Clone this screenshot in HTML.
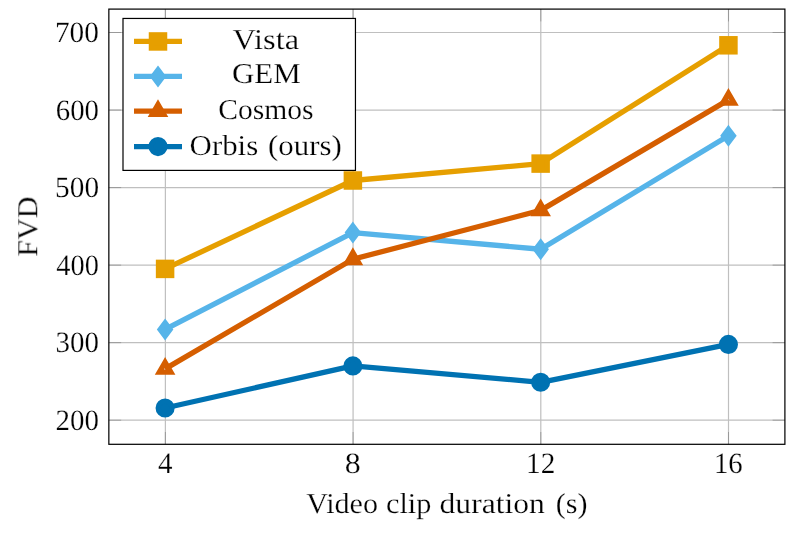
<!DOCTYPE html>
<html><head><meta charset="utf-8"><title>FVD vs video clip duration</title>
<style>
html,body{margin:0;padding:0;background:#fff;}
body{width:794px;height:538px;overflow:hidden;}
svg{display:block;}
text{font-family:"Liberation Serif",serif;fill:#000;text-rendering:geometricPrecision;stroke:#fff;stroke-width:0.22px;}
</style></head><body>
<svg width="794" height="538" viewBox="0 0 794 538">
<rect x="0" y="0" width="794" height="538" fill="#fff"/>
<g stroke="#bfbfbf" stroke-width="1.2" fill="none">
<line x1="165.38" y1="9.1" x2="165.38" y2="444.3"/>
<line x1="353.08" y1="9.1" x2="353.08" y2="444.3"/>
<line x1="540.8" y1="9.1" x2="540.8" y2="444.3"/>
<line x1="728.5" y1="9.1" x2="728.5" y2="444.3"/>
<line x1="108.85" y1="32.5" x2="784.9" y2="32.5"/>
<line x1="108.85" y1="110.04" x2="784.9" y2="110.04"/>
<line x1="108.85" y1="187.58" x2="784.9" y2="187.58"/>
<line x1="108.85" y1="265.12" x2="784.9" y2="265.12"/>
<line x1="108.85" y1="342.66" x2="784.9" y2="342.66"/>
<line x1="108.85" y1="420.2" x2="784.9" y2="420.2"/>
</g>
<g stroke="#808080" stroke-width="0.6" fill="none">
<line x1="165.38" y1="9.1" x2="165.38" y2="21.4"/>
<line x1="165.38" y1="444.3" x2="165.38" y2="432.0"/>
<line x1="353.08" y1="9.1" x2="353.08" y2="21.4"/>
<line x1="353.08" y1="444.3" x2="353.08" y2="432.0"/>
<line x1="540.8" y1="9.1" x2="540.8" y2="21.4"/>
<line x1="540.8" y1="444.3" x2="540.8" y2="432.0"/>
<line x1="728.5" y1="9.1" x2="728.5" y2="21.4"/>
<line x1="728.5" y1="444.3" x2="728.5" y2="432.0"/>
<line x1="108.85" y1="32.5" x2="121.14999999999999" y2="32.5"/>
<line x1="784.9" y1="32.5" x2="772.6" y2="32.5"/>
<line x1="108.85" y1="110.04" x2="121.14999999999999" y2="110.04"/>
<line x1="784.9" y1="110.04" x2="772.6" y2="110.04"/>
<line x1="108.85" y1="187.58" x2="121.14999999999999" y2="187.58"/>
<line x1="784.9" y1="187.58" x2="772.6" y2="187.58"/>
<line x1="108.85" y1="265.12" x2="121.14999999999999" y2="265.12"/>
<line x1="784.9" y1="265.12" x2="772.6" y2="265.12"/>
<line x1="108.85" y1="342.66" x2="121.14999999999999" y2="342.66"/>
<line x1="784.9" y1="342.66" x2="772.6" y2="342.66"/>
<line x1="108.85" y1="420.2" x2="121.14999999999999" y2="420.2"/>
<line x1="784.9" y1="420.2" x2="772.6" y2="420.2"/>
</g>
<polyline points="165.10,268.90 352.88,180.50 540.65,163.60 728.43,45.30" fill="none" stroke="#E69F00" stroke-width="5.3" stroke-linejoin="round"/>
<polyline points="165.10,329.40 352.88,232.60 540.65,249.25 728.43,135.85" fill="none" stroke="#56B4E9" stroke-width="5.3" stroke-linejoin="round"/>
<polyline points="165.10,368.90 352.88,259.20 540.65,210.40 728.43,99.90" fill="none" stroke="#D55E00" stroke-width="5.3" stroke-linejoin="round"/>
<polyline points="165.10,408.00 352.88,365.90 540.65,382.30 728.43,344.40" fill="none" stroke="#0072B2" stroke-width="5.3" stroke-linejoin="round"/>
<rect x="158.50" y="262.30" width="13.20" height="13.20" fill="#E69F00" stroke="#E69F00" stroke-width="5.3"/>
<rect x="346.28" y="173.90" width="13.20" height="13.20" fill="#E69F00" stroke="#E69F00" stroke-width="5.3"/>
<rect x="534.05" y="157.00" width="13.20" height="13.20" fill="#E69F00" stroke="#E69F00" stroke-width="5.3"/>
<rect x="721.83" y="38.70" width="13.20" height="13.20" fill="#E69F00" stroke="#E69F00" stroke-width="5.3"/>
<path d="M165.10 322.80L170.05 329.40L165.10 336.00L160.15 329.40Z" fill="#56B4E9" stroke="#56B4E9" stroke-width="5.3" stroke-miterlimit="10"/>
<path d="M352.88 226.00L357.83 232.60L352.88 239.20L347.93 232.60Z" fill="#56B4E9" stroke="#56B4E9" stroke-width="5.3" stroke-miterlimit="10"/>
<path d="M540.65 242.65L545.60 249.25L540.65 255.85L535.70 249.25Z" fill="#56B4E9" stroke="#56B4E9" stroke-width="5.3" stroke-miterlimit="10"/>
<path d="M728.43 129.25L733.38 135.85L728.43 142.45L723.48 135.85Z" fill="#56B4E9" stroke="#56B4E9" stroke-width="5.3" stroke-miterlimit="10"/>
<path d="M165.10 362.30L170.82 372.20L159.38 372.20Z" fill="none" stroke="#D55E00" stroke-width="5.3" stroke-miterlimit="10"/>
<path d="M352.88 252.60L358.60 262.50L347.16 262.50Z" fill="none" stroke="#D55E00" stroke-width="5.3" stroke-miterlimit="10"/>
<path d="M540.65 203.80L546.37 213.70L534.93 213.70Z" fill="none" stroke="#D55E00" stroke-width="5.3" stroke-miterlimit="10"/>
<path d="M728.43 93.30L734.15 103.20L722.71 103.20Z" fill="none" stroke="#D55E00" stroke-width="5.3" stroke-miterlimit="10"/>
<circle cx="165.10" cy="408.00" r="6.90" fill="#0072B2" stroke="#0072B2" stroke-width="5.3"/>
<circle cx="352.88" cy="365.90" r="6.90" fill="#0072B2" stroke="#0072B2" stroke-width="5.3"/>
<circle cx="540.65" cy="382.30" r="6.90" fill="#0072B2" stroke="#0072B2" stroke-width="5.3"/>
<circle cx="728.43" cy="344.40" r="6.90" fill="#0072B2" stroke="#0072B2" stroke-width="5.3"/>
<rect x="108.85" y="9.1" width="676.05" height="435.2" fill="none" stroke="#000" stroke-width="1.22"/>
<rect x="123.0" y="18.45" width="232.45" height="151.95000000000002" fill="#fff" stroke="#000" stroke-width="1.2"/>
<line x1="134.0" y1="41.45" x2="182.0" y2="41.45" stroke="#E69F00" stroke-width="5.3"/>
<rect x="151.40" y="34.85" width="13.20" height="13.20" fill="#E69F00" stroke="#E69F00" stroke-width="5.3"/>
<line x1="134.0" y1="76.4" x2="182.0" y2="76.4" stroke="#56B4E9" stroke-width="5.3"/>
<path d="M158.00 69.80L162.95 76.40L158.00 83.00L153.05 76.40Z" fill="#56B4E9" stroke="#56B4E9" stroke-width="5.3" stroke-miterlimit="10"/>
<line x1="134.0" y1="111.1" x2="182.0" y2="111.1" stroke="#D55E00" stroke-width="5.3"/>
<path d="M158.00 104.50L163.72 114.40L152.28 114.40Z" fill="none" stroke="#D55E00" stroke-width="5.3" stroke-miterlimit="10"/>
<line x1="134.0" y1="146.6" x2="182.0" y2="146.6" stroke="#0072B2" stroke-width="5.3"/>
<circle cx="158.00" cy="146.60" r="6.90" fill="#0072B2" stroke="#0072B2" stroke-width="5.3"/>
<g opacity="0.999">
<text x="232.47" y="49.20" font-size="28.9" textLength="66.62" lengthAdjust="spacingAndGlyphs">Vista</text>
<text x="231.94" y="83.40" font-size="28.9" textLength="68.71" lengthAdjust="spacingAndGlyphs">GEM</text>
<text x="218.31" y="119.10" font-size="28.9" textLength="95.31" lengthAdjust="spacingAndGlyphs">Cosmos</text>
<text x="189.57" y="155.30" font-size="28.9" textLength="68.67" lengthAdjust="spacingAndGlyphs">Orbis</text>
<text x="267.99" y="155.30" font-size="28.9" textLength="73.79" lengthAdjust="spacingAndGlyphs">(ours)</text>
<text x="306.24" y="512.70" font-size="28.9" textLength="71.73" lengthAdjust="spacingAndGlyphs">Video</text>
<text x="385.99" y="512.70" font-size="28.9" textLength="45.42" lengthAdjust="spacingAndGlyphs">clip</text>
<text x="439.58" y="512.70" font-size="28.9" textLength="105.23" lengthAdjust="spacingAndGlyphs">duration</text>
<text x="555.71" y="512.70" font-size="28.9" textLength="31.76" lengthAdjust="spacingAndGlyphs">(s)</text>
<text x="157.96" y="472.80" font-size="29.5" textLength="14.51" lengthAdjust="spacingAndGlyphs">4</text>
<text x="344.68" y="472.80" font-size="29.5" textLength="16.01" lengthAdjust="spacingAndGlyphs">8</text>
<text x="526.08" y="472.80" font-size="29.5" textLength="29.25" lengthAdjust="spacingAndGlyphs">12</text>
<text x="713.91" y="472.80" font-size="29.5" textLength="28.74" lengthAdjust="spacingAndGlyphs">16</text>
<text x="54.96" y="42.00" font-size="29.5" textLength="43.98" lengthAdjust="spacingAndGlyphs">700</text>
<text x="55.76" y="119.54" font-size="29.5" textLength="43.21" lengthAdjust="spacingAndGlyphs">600</text>
<text x="55.11" y="197.08" font-size="29.5" textLength="43.97" lengthAdjust="spacingAndGlyphs">500</text>
<text x="56.31" y="274.62" font-size="29.5" textLength="42.54" lengthAdjust="spacingAndGlyphs">400</text>
<text x="55.47" y="352.16" font-size="29.5" textLength="43.43" lengthAdjust="spacingAndGlyphs">300</text>
<text x="55.59" y="429.70" font-size="29.5" textLength="43.43" lengthAdjust="spacingAndGlyphs">200</text>
<text transform="translate(37.2,256.7) rotate(-90)" x="0" y="0" font-size="28.9" textLength="60.2" lengthAdjust="spacingAndGlyphs">FVD</text>
</g>
</svg></body></html>
